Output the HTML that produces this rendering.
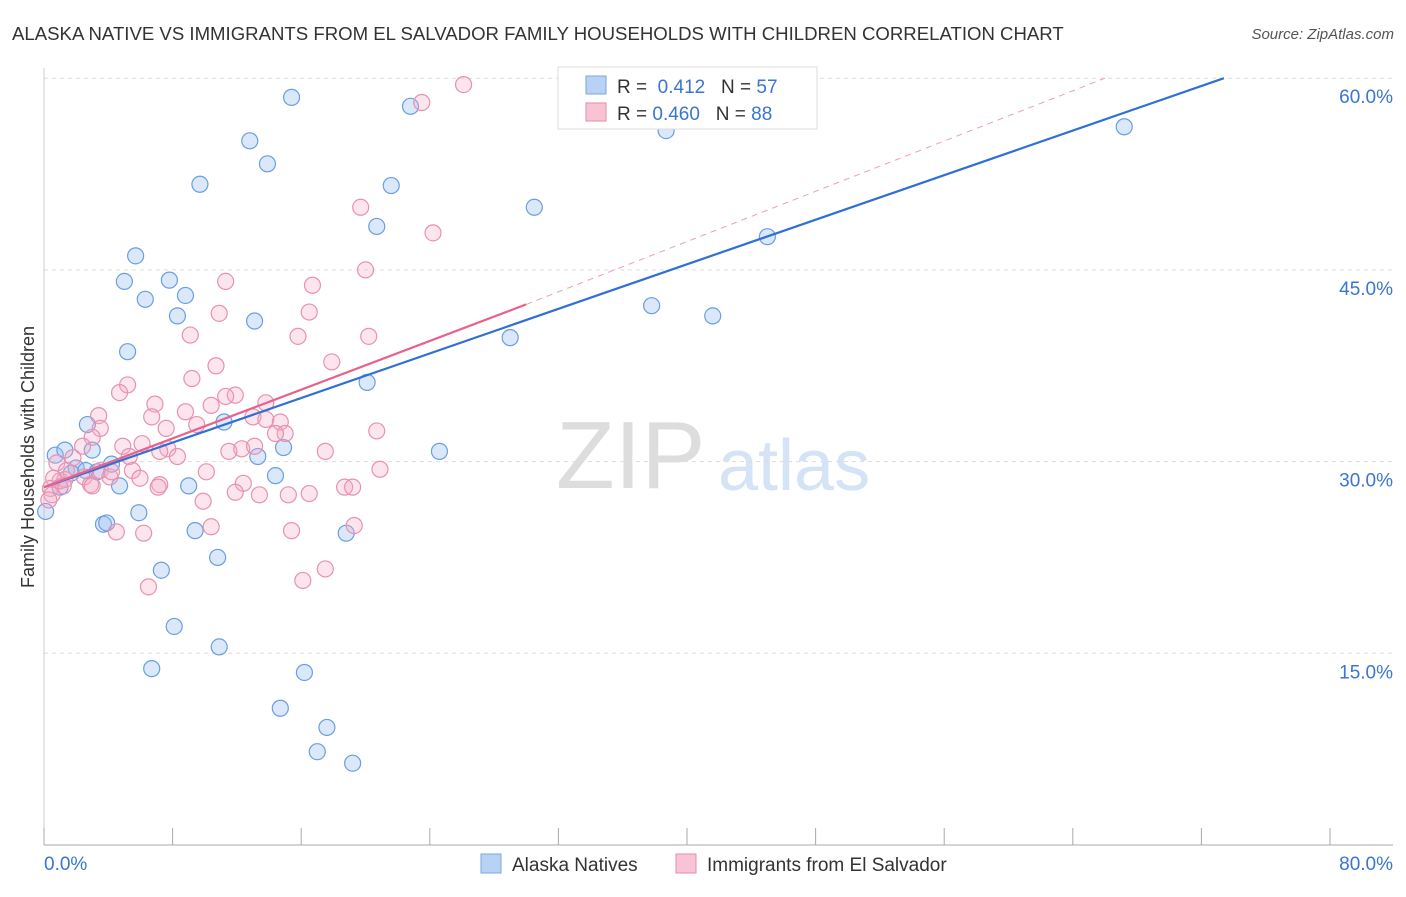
<!DOCTYPE html>
<html><head><meta charset="utf-8"><style>
body{margin:0;background:#fff;font-family:"Liberation Sans",sans-serif}
svg text{font-family:"Liberation Sans",sans-serif}
</style></head><body>
<svg id="c" width="1406" height="892">
<text x="12" y="40" font-size="18.6" fill="#333">ALASKA NATIVE VS IMMIGRANTS FROM EL SALVADOR FAMILY HOUSEHOLDS WITH CHILDREN CORRELATION CHART</text>
<text x="1394" y="39" font-size="15" fill="#555" font-style="italic" text-anchor="end">Source: ZipAtlas.com</text>
<text x="556" y="488" font-size="96" fill="#ddd" font-family="Liberation Serif">ZIP</text>
<text x="718" y="490" font-size="72" fill="#d4e3f5">atlas</text>
<g id="grid"></g><g id="axes"></g><g id="pts"></g><g id="lines"></g>
<text transform="translate(34,457) rotate(-90)" font-size="18" fill="#333" text-anchor="middle">Family Households with Children</text>
<g>
<rect x="558" y="67" width="259" height="62" fill="#fff" stroke="#ddd"/>
<rect x="586" y="76" width="20" height="18" fill="#b8d2f4" stroke="#7aa6e0"/>
<rect x="586" y="103" width="20" height="18" fill="#f8c4d4" stroke="#e88aab"/>
<text x="617" y="93" font-size="19" fill="#333">R = <tspan fill="#3a75d0">&#160;0.412</tspan>&#160;&#160;&#160;N = <tspan fill="#3a75d0">57</tspan></text>
<text x="617" y="120" font-size="19" fill="#333">R = <tspan fill="#3a75d0">0.460</tspan>&#160;&#160;&#160;N = <tspan fill="#3a75d0">88</tspan></text>
</g>
<g>
<rect x="481" y="854" width="20" height="19" fill="#b8d2f4" stroke="#7aa6e0"/>
<text x="512" y="871" font-size="19" fill="#333">Alaska Natives</text>
<rect x="676" y="854" width="20" height="19" fill="#f8c4d4" stroke="#e88aab"/>
<text x="707" y="871" font-size="19" fill="#333">Immigrants from El Salvador</text>
</g>
</svg>
<script>
const yTicks=[15,30,45,60];
const yTickLabels=["15.0%","30.0%","45.0%","60.0%"];
const xTickCount=[0,8,16,24,32,40,48,56,64,72,80];
const xEndLabels=["0.0%","80.0%"];
const blueX=[15.4,22.8,12.8,13.9,9.7,21.6,30.5,20.7,38.7,33.0,67.2,45.0,5.7,5.0,7.8,6.3,8.8,8.3,13.1,37.8,41.6,29.0,5.2,20.1,11.2,2.7,0.7,1.3,3.0,13.3,14.9,24.6,2.0,1.7,2.6,4.2,3.3,14.4,4.7,9.0,5.9,0.1,3.7,3.9,9.4,18.8,10.8,7.3,8.1,10.9,6.7,16.2,14.7,17.6,17.0,19.2,1.0];
const blueY=[58.5,57.8,55.1,53.3,51.7,51.6,49.9,48.4,55.9,56.7,56.2,47.6,46.1,44.1,44.2,42.7,43.0,41.4,41.0,42.2,41.4,39.7,38.6,36.2,33.1,32.9,30.5,30.9,30.9,30.4,31.1,30.8,29.5,29.1,29.3,29.8,29.2,28.9,28.1,28.1,26.0,26.1,25.1,25.2,24.6,24.4,22.5,21.5,17.1,15.5,13.8,13.5,10.7,9.2,7.3,6.4,28.0];
const pinkX=[26.1,23.5,19.7,24.2,20.0,11.3,16.7,10.9,16.5,9.1,15.8,20.2,17.9,10.7,9.2,5.2,4.7,11.9,11.3,6.9,13.8,10.4,8.8,3.4,6.7,13.0,13.8,14.7,9.5,7.6,3.5,3.0,15.0,14.4,20.7,4.9,6.1,7.7,2.4,12.3,11.5,13.1,17.5,7.2,8.3,5.3,10.1,20.9,1.8,0.8,3.5,5.5,1.0,1.3,2.5,4.1,4.2,12.4,7.2,18.7,11.9,0.6,1.4,5.97,2.9,3.0,1.2,0.4,7.1,19.2,13.4,15.2,16.5,9.9,0.5,0.3,10.4,19.3,4.5,6.2,15.4,16.1,17.5,6.5];
const pinkY=[59.5,58.1,49.9,47.9,45.0,44.1,43.8,41.6,41.7,39.9,39.8,39.8,37.8,37.5,36.5,36.0,35.4,35.2,35.1,34.5,34.6,34.4,33.9,33.6,33.5,33.5,33.3,33.1,32.9,32.6,32.6,31.9,32.2,32.2,32.4,31.2,31.4,31.0,31.2,31.0,30.8,31.2,30.8,30.8,30.4,30.4,29.2,29.4,30.3,29.9,29.3,29.3,28.5,28.6,28.8,28.8,29.2,28.3,28.2,28.0,27.6,28.7,29.3,28.7,28.2,28.1,28.1,27.9,28.0,28.0,27.4,27.4,27.5,26.9,27.4,27.0,24.9,25.0,24.5,24.4,24.6,20.7,21.6,20.2];
const blueLine=[0,28.0,73.4,60];
const pinkLine=[0,28.0,30.0,42.3];
const pinkDash=[30.0,42.3,66.0,60];
const NS="http://www.w3.org/2000/svg";
const X=v=>44+v*16.075, Y=v=>845-v*12.78;
function mk(tag,at,parent){const e=document.createElementNS(NS,tag);for(const k in at)e.setAttribute(k,at[k]);document.getElementById(parent).appendChild(e);return e;}
yTicks.forEach((t,i)=>{
 const l=mk('line',{x1:44,x2:1393,y1:Y(t),y2:Y(t),stroke:'#ddd','stroke-dasharray':'4,4'},'grid');
 
 
 const tx=mk('text',{x:1393,y:Y(t)+25,'font-size':19,fill:'#3a75d0','text-anchor':'end'},'axes');
 tx.textContent=yTickLabels[i];
 
 
});
const ax=mk('line',{x1:44,x2:1393,y1:845,y2:845,stroke:'#aaa'},'axes');


const ay=mk('line',{x1:44,x2:44,y1:68,y2:845,stroke:'#ccc'},'axes');


xTickCount.forEach(t=>{
 const l=mk('line',{x1:X(t),x2:X(t),y1:828,y2:845,stroke:'#aaa'},'axes');
 
 
});
[[0,'start'],[80,'end']].forEach((p,i)=>{
 const tx=mk('text',{x:i?1393:44,y:870,'font-size':19,fill:'#3a75d0','text-anchor':p[1]},'axes');
 tx.textContent=xEndLabels[i];
 
 
});
blueX.forEach((v,i)=>{
 const c=mk('circle',{cx:X(v),cy:Y(blueY[i]),r:8,fill:'rgba(150,190,240,0.35)',stroke:'#6a9ee0','stroke-width':1.2},'pts');
 
 
});
pinkX.forEach((v,i)=>{
 const c=mk('circle',{cx:X(v),cy:Y(pinkY[i]),r:8,fill:'rgba(245,170,195,0.3)',stroke:'#e891b0','stroke-width':1.2},'pts');
 
 
});
const bl=mk('line',{x1:X(blueLine[0]),y1:Y(blueLine[1]),x2:X(blueLine[2]),y2:Y(blueLine[3]),stroke:'#2f6fd6','stroke-width':2.2},'lines');


const pl=mk('line',{x1:X(pinkLine[0]),y1:Y(pinkLine[1]),x2:X(pinkLine[2]),y2:Y(pinkLine[3]),stroke:'#e8628e','stroke-width':2.2},'lines');


const pd=mk('line',{x1:X(pinkDash[0]),y1:Y(pinkDash[1]),x2:X(pinkDash[2]),y2:Y(pinkDash[3]),stroke:'#e8a0b8','stroke-width':1,'stroke-dasharray':'6,5'},'lines');


</script>
</body></html>
